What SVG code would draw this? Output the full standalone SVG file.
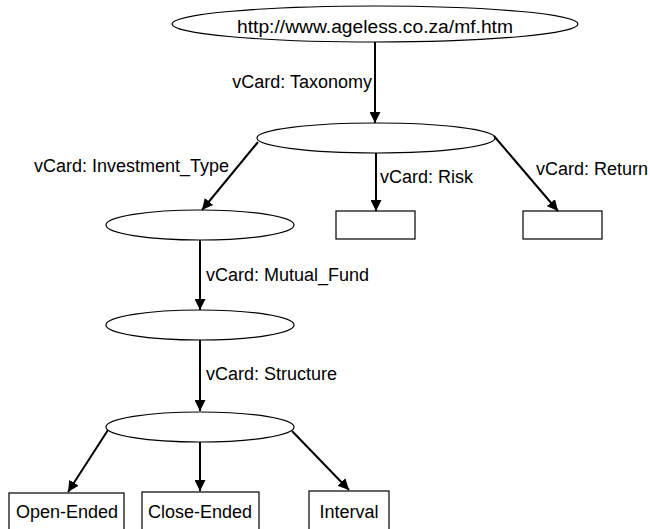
<svg xmlns="http://www.w3.org/2000/svg" width="650" height="529" viewBox="0 0 650 529">
<defs>
<marker id="ah" viewBox="0 0 10 10" refX="10" refY="5" markerWidth="11" markerHeight="11" markerUnits="userSpaceOnUse" orient="auto">
<path d="M0,0 L10,5 L0,10 z" fill="#000"/>
</marker>
<style>
.n{fill:#fff;stroke:#000;stroke-width:1.2}
.t{font-family:"Liberation Sans",Arial,sans-serif;font-size:18px;fill:#000}
.c line{stroke:#000;stroke-width:2;marker-end:url(#ah)}
</style>
</defs>
<rect width="650" height="529" fill="#fff"/>
<g id="root"><ellipse class="n" cx="375" cy="24" rx="203" ry="18"/><text class="t" x="375" y="33" text-anchor="middle" font-size="19" textLength="276" lengthAdjust="spacingAndGlyphs">http://www.ageless.co.za/mf.htm</text></g>
<g id="taxonomy"><ellipse class="n" cx="376" cy="138" rx="119" ry="15"/></g>
<g id="invtype"><ellipse class="n" cx="200" cy="225" rx="94" ry="15"/></g>
<g id="risk"><rect class="n" x="336" y="211" width="79" height="28"/></g>
<g id="return"><rect class="n" x="523" y="211" width="79" height="28"/></g>
<g id="mutualfund"><ellipse class="n" cx="200" cy="325" rx="94" ry="15"/></g>
<g id="structure"><ellipse class="n" cx="200" cy="427" rx="94" ry="15"/></g>
<g id="open"><rect class="n" x="9" y="493" width="115" height="40"/><text class="t" x="67" y="518" text-anchor="middle">Open-Ended</text></g>
<g id="close"><rect class="n" x="142" y="492" width="117" height="40"/><text class="t" x="200" y="518" text-anchor="middle">Close-Ended</text></g>
<g id="interval"><rect class="n" x="309" y="491" width="80" height="40"/><text class="t" x="349" y="518" text-anchor="middle">Interval</text></g>
<g class="c" id="connectors">
<line x1="375" y1="42" x2="375" y2="123"/>
<line x1="258" y1="142" x2="202" y2="210"/>
<line x1="376" y1="153" x2="376" y2="211"/>
<line x1="494" y1="136" x2="558" y2="211"/>
<line x1="200" y1="240" x2="200" y2="310"/>
<line x1="200" y1="340" x2="200" y2="411"/>
<line x1="108" y1="430" x2="68" y2="492"/>
<line x1="200" y1="442" x2="200" y2="491"/>
<line x1="292" y1="431" x2="349" y2="490"/>
</g>
<g id="labels">
<text class="t" x="372" y="88" text-anchor="end">vCard: Taxonomy</text>
<text class="t" x="229" y="172" text-anchor="end">vCard: Investment_Type</text>
<text class="t" x="380" y="183">vCard: Risk</text>
<text class="t" x="536" y="175">vCard: Return</text>
<text class="t" x="206" y="281">vCard: Mutual_Fund</text>
<text class="t" x="206" y="380">vCard: Structure</text>
</g>
</svg>
